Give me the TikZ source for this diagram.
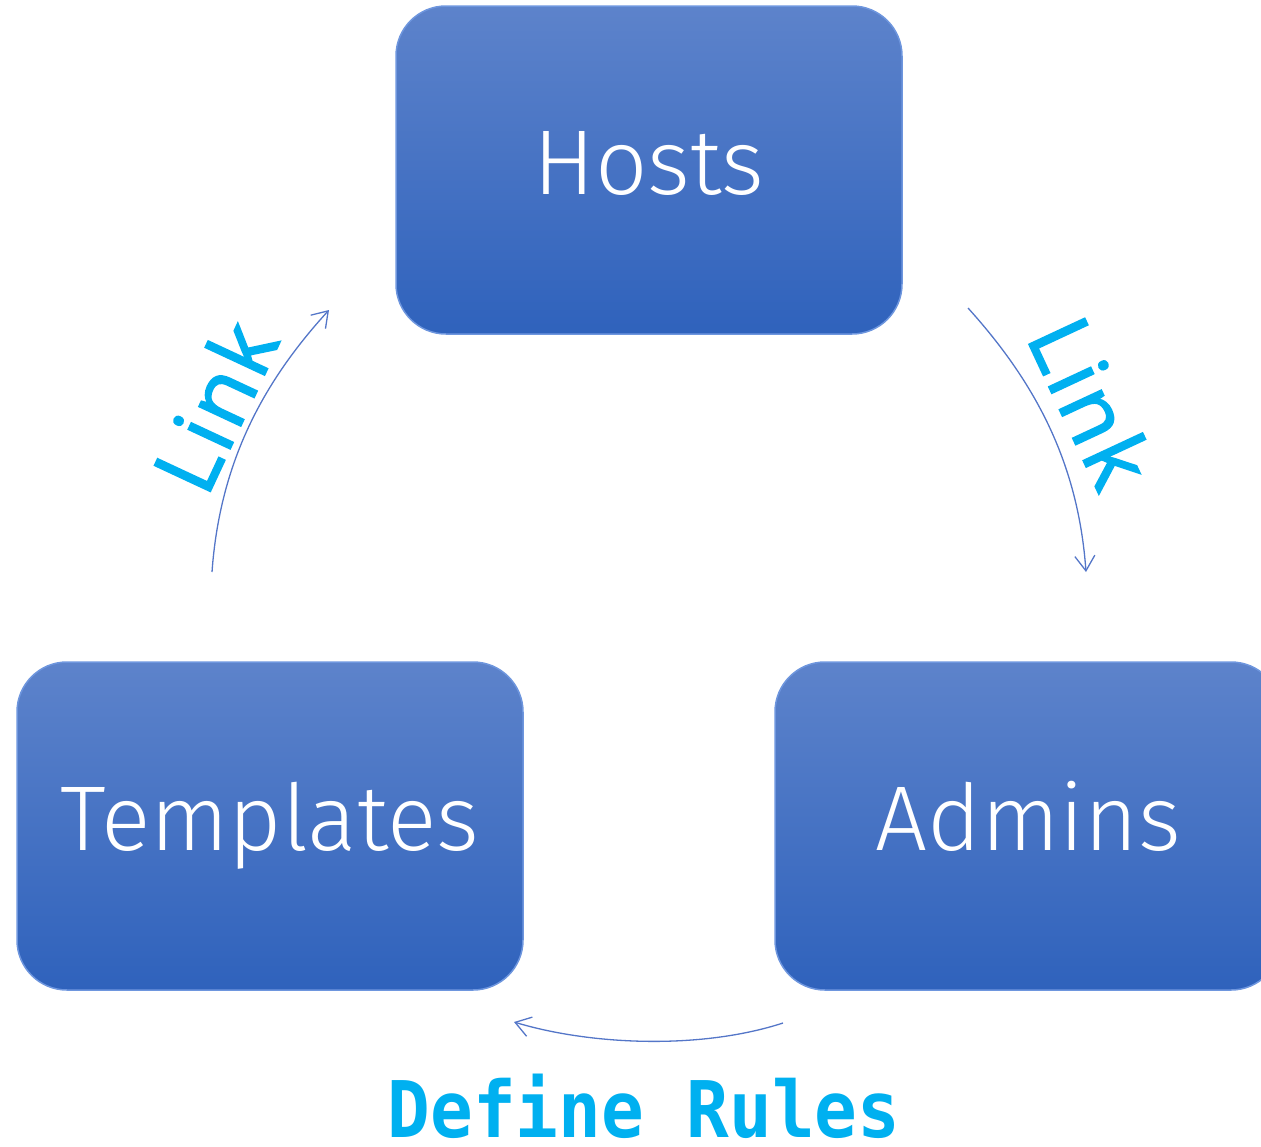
\documentclass[tikz,border=0pt]{standalone}
\usepackage{fontspec}
\usepackage{xcolor}
\usetikzlibrary{arrows.meta}
\newfontfamily\boxfont{Fira Sans}[UprightFont={* Light}]
\newfontfamily\linkfont{Open Sans}[LetterSpace=4,FakeBold=2]
\newfontfamily\rulefont{DejaVu Sans Mono}
\definecolor{boxtop}{RGB}{93,131,203}
\definecolor{boxbot}{RGB}{47,98,188}
\definecolor{boxedge}{RGB}{110,150,222}
\definecolor{flowblue}{RGB}{84,118,200}
\definecolor{labelcyan}{RGB}{0,176,240}

\begin{document}
\begin{tikzpicture}[x=1pt,y=-1pt,
    block/.style={rectangle, rounded corners=50pt, draw=boxedge, line width=1.5pt,
      top color=boxtop, bottom color=boxbot, minimum width=506pt, minimum height=328pt,
      text=white, font=\boxfont\fontsize{92}{92}\selectfont, text height=66pt, text depth=18pt},
    flow/.style={flowblue, line width=1.3pt, -{Straight Barb[length=15pt,width=20pt]}},
    linklabel/.style={text=labelcyan, font=\linkfont\fontsize{86}{86}\selectfont}]
      \useasboundingbox (0,0) rectangle (1261,1146);
      \clip (0,0) rectangle (1261,1146);
      % Boxes
      \node[block] (hosts) at (649,170) {Hosts};
      \node[block] (templates) at (270,826) {Templates};
      \node[block] (admins) at (1028,826) {Admins};
      % Arrow ends
      \coordinate (ta) at (212,572);
      \coordinate (tb) at (329,310);
      \coordinate (ha) at (968,308);
      \coordinate (hb) at (1086,572);
      \coordinate (aa) at (783,1023);
      \coordinate (ab) at (514,1022);
      % Arrows
      \draw[flow] (ta) .. controls (220,460) and (265,380) .. (tb);
      \draw[flow] (ha) .. controls (1033,380) and (1078,460) .. (hb);
      \draw[flow] (aa) .. controls (700,1050) and (590,1045) .. (ab);
      % Labels
      \node[linklabel, rotate=65] (linkleft) at (214,406) {Link};
      \node[linklabel, rotate=-65] (linkright) at (1092,402) {Link};
      \node[text=labelcyan, anchor=base, inner sep=0pt, font=\rulefont\bfseries\fontsize{71}{71}\selectfont]
        (rules) at (644,1137) {\scalebox{1}[1.1]{Define Rules}};
    \end{tikzpicture}
\end{document}
